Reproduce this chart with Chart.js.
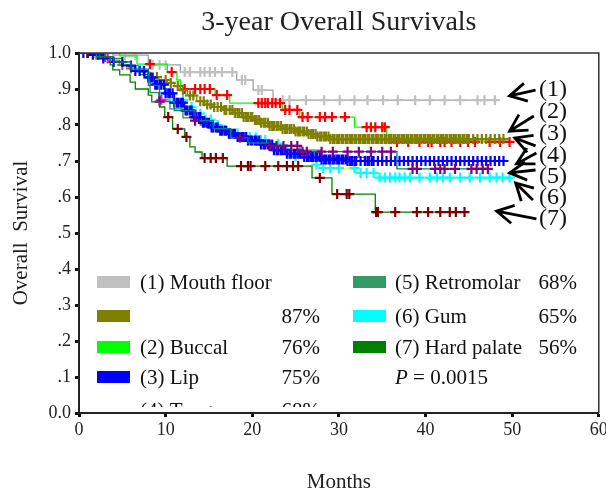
<!DOCTYPE html>
<html><head><meta charset="utf-8">
<script src="https://cdn.jsdelivr.net/npm/chart.js@4/dist/chart.umd.min.js"></script>
<style>html,body{margin:0;padding:0;background:#fff}#wrap{width:606px;height:495px}</style>
</head><body><div id="wrap"><canvas id="c" width="606" height="495"></canvas></div>
<script>
// ---------- data (months, survival) ----------
const xTicks = [0, 10, 20, 30, 40, 50, 60];
const yTickLabels = {1: '1.0', 0.9: '.9', 0.8: '.8', 0.7: '.7', 0.6: '.6', 0.5: '.5', 0.4: '.4', 0.3: '.3', 0.2: '.2', 0.1: '.1', 0: '0.0'};

const mouthFloorT = [0, 3.9, 8.0, 11.7, 18.2, 20.1, 22.4, 48.2];
const mouthFloorS = [1, 0.994, 0.967, 0.947, 0.925, 0.897, 0.869, 0.869];
const mouthFloorCensor = [1.0, 1.8, 5.3, 6.5, 8.5, 9.3, 10.0, 12.2, 12.8, 14.0, 14.5, 15.1, 15.7, 16.5, 17.7, 18.8, 19.2, 20.7, 21.1, 23.5, 24.3, 26.2, 28.3, 30.1, 31.8, 33.3, 35.1, 36.8, 38.8, 40.5, 42.2, 44.0, 46.0, 46.8, 48.0];

const oliveT = [0, 1.5, 2.4, 3.5, 4.7, 5.8, 6.7, 8.2, 9.2, 10.2, 11.0, 11.7, 12.5, 13.6, 14.5, 15.5, 16.6, 17.8, 19.0, 20.1, 21.0, 22.0, 23.5, 25.0, 26.5, 27.5, 29.0, 49.2];
const oliveS = [1, 0.995, 0.989, 0.98, 0.967, 0.957, 0.947, 0.933, 0.925, 0.917, 0.908, 0.897, 0.882, 0.866, 0.857, 0.85, 0.842, 0.833, 0.822, 0.814, 0.806, 0.797, 0.789, 0.782, 0.775, 0.768, 0.761, 0.761];
const oliveCensor = [1, 2, 3, 5, 6, 7.5, 9, 10, 10.6, 11.4, 12, 12.8, 13.2, 14, 14.4, 14.8, 15.2, 15.6, 16, 16.4, 16.8, 17, 17.4, 17.7, 18, 18.3, 18.5, 18.8, 19, 19.3, 19.5, 19.8, 20, 20.3, 20.5, 20.8, 21, 21.3, 21.5, 21.8, 22, 22.3, 22.5, 22.8, 23, 23.3, 23.5, 23.8, 24, 24.3, 24.5, 24.8, 25, 25.3, 25.5, 25.8, 26, 26.3, 26.5, 26.8, 27, 27.3, 27.5, 27.8, 28, 28.3, 28.5, 28.8, 29, 29.3, 29.5, 29.8, 30, 30.3, 30.5, 30.8, 31, 31.3, 31.5, 31.8, 32, 32.3, 32.5, 32.8, 33, 33.3, 33.5, 33.8, 34, 34.3, 34.5, 34.8, 35, 35.3, 35.5, 35.8, 36, 36.3, 36.5, 36.8, 37, 37.3, 37.5, 37.8, 38, 38.3, 38.5, 38.8, 39, 39.3, 39.5, 39.8, 40, 40.3, 40.5, 40.8, 41, 41.3, 41.5, 41.8, 42, 42.3, 42.5, 42.8, 43, 43.3, 43.5, 43.8, 44, 44.3, 44.5, 44.8, 45, 45.5, 46, 46.5, 47, 47.5, 48, 48.5, 49];

const buccalT = [0, 4.7, 6.7, 10.2, 11.3, 11.7, 15.7, 17.4, 23.5, 25.5, 31.8, 35.5, 49.8];
const buccalS = [1, 0.992, 0.969, 0.947, 0.925, 0.9, 0.883, 0.861, 0.842, 0.822, 0.794, 0.753, 0.753];
const buccalCensor = [8.2, 10.7, 12.2, 13.4, 14.0, 14.5, 15.1, 15.9, 17.1, 20.7, 21.1, 21.5, 21.8, 22.3, 22.7, 23.2, 23.8, 24.3, 25.2, 25.8, 26.4, 27.8, 28.4, 29.2, 30.7, 33.2, 33.7, 34.2, 35.0, 35.3, 36.7, 38.0, 39.3, 40.3, 40.7, 41.7, 42.2, 43.0, 44.0, 44.9, 45.7, 47.4, 48.6, 49.7];

const lipT = [0, 1.2, 2.8, 3.9, 5.1, 6.5, 7.6, 8.7, 9.9, 11.0, 12.2, 13.1, 14.3, 15.3, 16.2, 17.2, 18.2, 19.5, 21.0, 22.5, 24.0, 26.0, 28.0, 31.0, 49.0];
const lipS = [1, 0.995, 0.985, 0.975, 0.965, 0.95, 0.932, 0.912, 0.888, 0.862, 0.84, 0.822, 0.806, 0.793, 0.784, 0.776, 0.767, 0.757, 0.746, 0.73, 0.72, 0.711, 0.704, 0.70, 0.70];
const lipCensor = [0.5, 1, 1.6, 2.2, 2.8, 4, 5, 6, 6.5, 7, 7.5, 8, 8.3, 8.5, 8.8, 9, 9.3, 9.5, 9.8, 10, 10.3, 10.5, 10.8, 11, 11.3, 11.5, 11.8, 12, 12.3, 12.5, 12.8, 13, 13.3, 13.5, 13.8, 14, 14.3, 14.5, 14.8, 15, 15.3, 15.5, 15.8, 16, 16.3, 16.5, 16.8, 17, 17.3, 17.5, 17.8, 18, 18.3, 18.5, 18.8, 19, 19.3, 19.5, 19.8, 20, 20.3, 20.5, 20.8, 21, 21.3, 21.5, 21.8, 22, 22.3, 22.5, 22.8, 23, 23.3, 23.5, 23.8, 24, 24.3, 24.5, 24.8, 25, 25.3, 25.5, 25.8, 26, 26.3, 26.5, 26.8, 27, 27.3, 27.5, 27.8, 28, 28.3, 28.5, 28.8, 29, 29.3, 29.5, 29.8, 30, 30.3, 30.5, 30.8, 31, 31.3, 31.5, 31.8, 32, 32.5, 33, 33.3, 33.5, 33.8, 34, 34.5, 35, 35.5, 36, 36.5, 37, 37.5, 38, 38.5, 39, 39.5, 40, 40.5, 41, 41.5, 42, 42.5, 43, 43.5, 44, 44.5, 45, 45.5, 46, 46.5, 47, 47.5, 48, 48.5, 49];

const tongueT = [0, 2.0, 4.0, 6.0, 8.0, 9.3, 11.0, 13.4, 15.5, 17.5, 19.5, 22.0, 25.5, 36.7, 47.2];
const tongueS = [1, 0.99, 0.975, 0.955, 0.91, 0.865, 0.84, 0.812, 0.79, 0.765, 0.75, 0.742, 0.726, 0.678, 0.678];
const tongueCensor = [9.3, 13.4, 18.6, 22.0, 22.8, 23.6, 24.5, 25.2, 25.8, 26.3, 28.0, 29.3, 31.0, 32.3, 33.7, 35.0, 36.0, 38.5, 39.0, 41.1, 41.7, 42.2, 43.4, 45.3, 45.9, 46.6, 47.2];

const retromolarT = [0, 3.0, 5.0, 7.0, 8.2, 9.2, 10.5, 12.0, 14.0, 16.0, 18.0, 21.0, 24.0, 28.0, 33.0];
const retromolarS = [1, 0.985, 0.965, 0.94, 0.89, 0.87, 0.845, 0.82, 0.80, 0.78, 0.765, 0.745, 0.73, 0.71, 0.70];
const retromolarCensor = [3.3, 9.5];

const gumT = [0, 2.0, 4.0, 6.0, 7.5, 8.7, 10.0, 11.0, 12.2, 13.2, 14.3, 15.3, 16.5, 17.5, 19.0, 20.5, 22.0, 23.5, 25.0, 27.0, 28.0, 32.0, 34.5, 49.8];
const gumS = [1, 0.99, 0.975, 0.955, 0.935, 0.915, 0.89, 0.87, 0.85, 0.832, 0.815, 0.8, 0.787, 0.777, 0.766, 0.758, 0.748, 0.733, 0.712, 0.69, 0.68, 0.667, 0.654, 0.654];
const gumCensor = [7, 8, 9, 10, 11, 12, 13, 14, 14.6, 15.2, 16, 16.8, 17.5, 18.3, 19, 19.7, 20.4, 21, 21.5, 23, 24, 25, 26.7, 27.4, 28.2, 29, 30, 31.8, 32.5, 33.2, 34, 34.7, 35.3, 35.9, 36.5, 37, 37.6, 38.2, 39.3, 40.5, 41.3, 42, 42.8, 44, 45.1, 46.3, 47.4, 48.2, 48.9, 49.7];

const hardPalateT = [0, 2.4, 3.6, 3.9, 4.7, 5.9, 6.5, 8.0, 8.4, 9.3, 9.9, 10.8, 12.2, 12.8, 13.4, 14.2, 17.1, 26.9, 29.2, 34.2, 44.8];
const hardPalateS = [1, 0.989, 0.967, 0.953, 0.939, 0.919, 0.9, 0.883, 0.864, 0.85, 0.822, 0.789, 0.767, 0.739, 0.725, 0.708, 0.686, 0.653, 0.608, 0.558, 0.558];
const hardPalateCensor = [1.0, 10.3, 11.4, 12.4, 14.5, 15.2, 15.8, 16.6, 18.7, 19.5, 19.8, 21.5, 23.0, 24.0, 24.7, 25.3, 27.8, 29.8, 30.9, 31.2, 34.3, 34.5, 36.5, 39.0, 40.3, 41.7, 42.8, 43.5, 44.5];

// legend
const legendLabels1 = ['(1) Mouth floor', '', '(2) Buccal', '(3) Lip', '(4) Tongue'];
const legendPercents1 = ['', '87%', '76%', '75%', '68%'];
const legendColors1 = ['#c0c0c0', '#808000', '#00ff00', '#0000ff', '#800080'];
const legendLabels2 = ['(5) Retromolar', '(6) Gum', '(7) Hard palate'];
const legendPercents2 = ['68%', '65%', '56%'];
const legendColors2 = ['#339966', '#00ffff', '#008000'];
const pValue = '0.0015';

// curve annotations on the right (months, survival)
const arrowLabels = ['(1)', '(2)', '(3)', '(4)', '(5)', '(6)', '(7)'];
const arrowLabelY = [0.9, 0.839, 0.778, 0.717, 0.658, 0.6, 0.542];
const arrowTips = [[49.7, 0.881], [49.7, 0.783], [50.3, 0.764], [50.5, 0.692], [49.7, 0.667], [50.4, 0.639], [48.2, 0.561]];
const arrowTails = [[52.7, 0.897], [52.5, 0.825], [52.7, 0.742], [52.8, 0.722], [52.7, 0.675], [52.4, 0.592], [52.8, 0.539]];

// ---------- build ----------
function stepAt(T, S, x) { let v = S[0]; for (let i = 0; i < T.length; i++) { if (T[i] <= x) v = S[i]; } return v; }
const groups = [
  {T: hardPalateT, S: hardPalateS, C: hardPalateCensor, line: '#008000', mark: '#800000'},
  {T: tongueT, S: tongueS, C: tongueCensor, line: '#008080', mark: '#800080'},
  {T: lipT, S: lipS, C: lipCensor, line: '#0000ff', mark: '#0000ff'},
  {T: gumT, S: gumS, C: gumCensor, line: '#ffff00', mark: '#00ffff'},
  {T: retromolarT, S: retromolarS, C: retromolarCensor, line: '#2e8b57', mark: '#ff00ff'},
  {T: oliveT, S: oliveS, C: oliveCensor, line: '#808000', mark: '#808000'},
  {T: buccalT, S: buccalS, C: buccalCensor, line: '#00ff00', mark: '#ff0000'},
  {T: mouthFloorT, S: mouthFloorS, C: mouthFloorCensor, line: '#a0a0a0', mark: '#c0c0c0'}
];
const datasets = [];
groups.forEach(g => {
  datasets.push({type: 'scatter', data: g.C.map(x => ({x: x, y: stepAt(g.T, g.S, x)})), pointStyle: 'cross', pointRadius: 5, pointBorderWidth: 2.2, borderColor: g.mark, backgroundColor: g.mark, showLine: false});
  datasets.push({type: 'line', data: g.T.map((x, i) => ({x: x, y: g.S[i]})), stepped: true, borderColor: g.line, borderWidth: 1.3, pointRadius: 0, fill: false});
});

const SERIF = '"Liberation Serif", "Times New Roman", serif';

const overlay = {
  id: 'overlay',
  afterDraw(chart) {
    const ctx = chart.ctx, ca = chart.chartArea, xs = chart.scales.x, ys = chart.scales.y;
    ctx.save();
    // frame (top and right)
    ctx.strokeStyle = '#333'; ctx.lineWidth = 1.5;
    ctx.beginPath(); ctx.moveTo(ca.left, ca.top); ctx.lineTo(ca.right, ca.top); ctx.lineTo(ca.right, ca.bottom); ctx.stroke();
    // legend
    ctx.save();
    ctx.beginPath(); ctx.rect(ca.left + 2, ca.top, ca.right - ca.left - 4, ca.bottom - ca.top - 6); ctx.clip();
    ctx.font = '21px ' + SERIF; ctx.fillStyle = '#111'; ctx.textBaseline = 'middle';
    const rowY = [229, 263, 294, 324, 357].map(d => ca.top + d);
    legendLabels1.forEach((t, i) => {
      if (i < 4) { ctx.fillStyle = legendColors1[i]; ctx.fillRect(ca.left + 18, rowY[i] - 6, 33, 12); }
      ctx.fillStyle = '#111'; ctx.textAlign = 'left'; ctx.fillText(t, ca.left + 61, rowY[i] + 1);
      ctx.textAlign = 'right'; ctx.fillText(legendPercents1[i], ca.left + 241, rowY[i] + 1);
    });
    legendLabels2.forEach((t, i) => {
      ctx.fillStyle = legendColors2[i]; ctx.fillRect(ca.left + 274, rowY[i] - 6, 33, 12);
      ctx.fillStyle = '#111'; ctx.textAlign = 'left'; ctx.fillText(t, ca.left + 316, rowY[i] + 1);
      ctx.textAlign = 'right'; ctx.fillText(legendPercents2[i], ca.left + 498, rowY[i] + 1);
    });
    ctx.textAlign = 'left';
    ctx.font = 'italic 21px ' + SERIF;
    ctx.fillText('P', ca.left + 316, rowY[3] + 1);
    const pw = ctx.measureText('P').width;
    ctx.font = '21px ' + SERIF;
    ctx.fillText(' = ' + pValue, ca.left + 316 + pw, rowY[3] + 1);
    ctx.restore();
    // curve labels and arrows
    ctx.font = '24px ' + SERIF; ctx.fillStyle = '#111'; ctx.textAlign = 'left'; ctx.textBaseline = 'middle';
    arrowLabels.forEach((t, i) => ctx.fillText(t, xs.getPixelForValue(53.1), ys.getPixelForValue(arrowLabelY[i]) + 1));
    ctx.strokeStyle = '#000'; ctx.lineWidth = 2.8; ctx.lineCap = 'butt';
    arrowTips.forEach((tp, i) => {
      const x1 = xs.getPixelForValue(tp[0]), y1 = ys.getPixelForValue(tp[1]);
      const x0 = xs.getPixelForValue(arrowTails[i][0]), y0 = ys.getPixelForValue(arrowTails[i][1]);
      const a = Math.atan2(y0 - y1, x0 - x1), L = 19, sp = 0.5;
      ctx.beginPath();
      ctx.moveTo(x0, y0); ctx.lineTo(x1, y1);
      ctx.moveTo(x1 + L * Math.cos(a - sp), y1 + L * Math.sin(a - sp)); ctx.lineTo(x1, y1); ctx.lineTo(x1 + L * Math.cos(a + sp), y1 + L * Math.sin(a + sp));
      ctx.stroke();
    });
    ctx.restore();
  }
};

new Chart(document.getElementById('c'), {
  type: 'scatter',
  data: {datasets: datasets},
  options: {
    responsive: false, animation: false, devicePixelRatio: 1,
    layout: {padding: {left: 0, right: 7, top: 0, bottom: 0}},
    plugins: {
      legend: {display: false}, tooltip: {enabled: false},
      title: {display: true, text: '3-year Overall Survivals', fullSize: false, color: '#222', font: {family: SERIF, size: 28, weight: 'normal'}, padding: {top: 6, bottom: 13.4}}
    },
    scales: {
      x: {
        type: 'linear', min: 0, max: 60,
        afterBuildTicks: s => { s.ticks = xTicks.map(v => ({value: v})); },
        afterFit: s => { s.height = 82; s.paddingLeft = 0; s.paddingRight = 0; },
        ticks: {color: '#222', font: {family: SERIF, size: 18}, padding: 2, maxRotation: 0},
        grid: {drawOnChartArea: false, drawTicks: true, tickLength: 4, tickWidth: 3, tickColor: '#111'},
        border: {display: true, color: '#222', width: 2},
        title: {display: true, text: 'Months', color: '#222', font: {family: SERIF, size: 21}, padding: {top: 0, bottom: 0}}
      },
      y: {
        type: 'linear', min: 0, max: 1,
        afterBuildTicks: s => { s.ticks = Object.keys(yTickLabels).map(Number).sort((a, b) => a - b).map(v => ({value: v})); },
        afterFit: s => { s.width = 79; s.paddingTop = 0; s.paddingBottom = 0; },
        ticks: {color: '#222', font: {family: SERIF, size: 18}, padding: 4, callback: v => yTickLabels[v]},
        grid: {drawOnChartArea: false, drawTicks: true, tickLength: 4, tickWidth: 3, tickColor: '#111'},
        border: {display: true, color: '#222', width: 2},
        title: {display: true, text: 'Overall  Survival', color: '#222', font: {family: SERIF, size: 21}, padding: {top: 9, bottom: 0}}
      }
    }
  },
  plugins: [overlay]
});
</script>
</body></html>
